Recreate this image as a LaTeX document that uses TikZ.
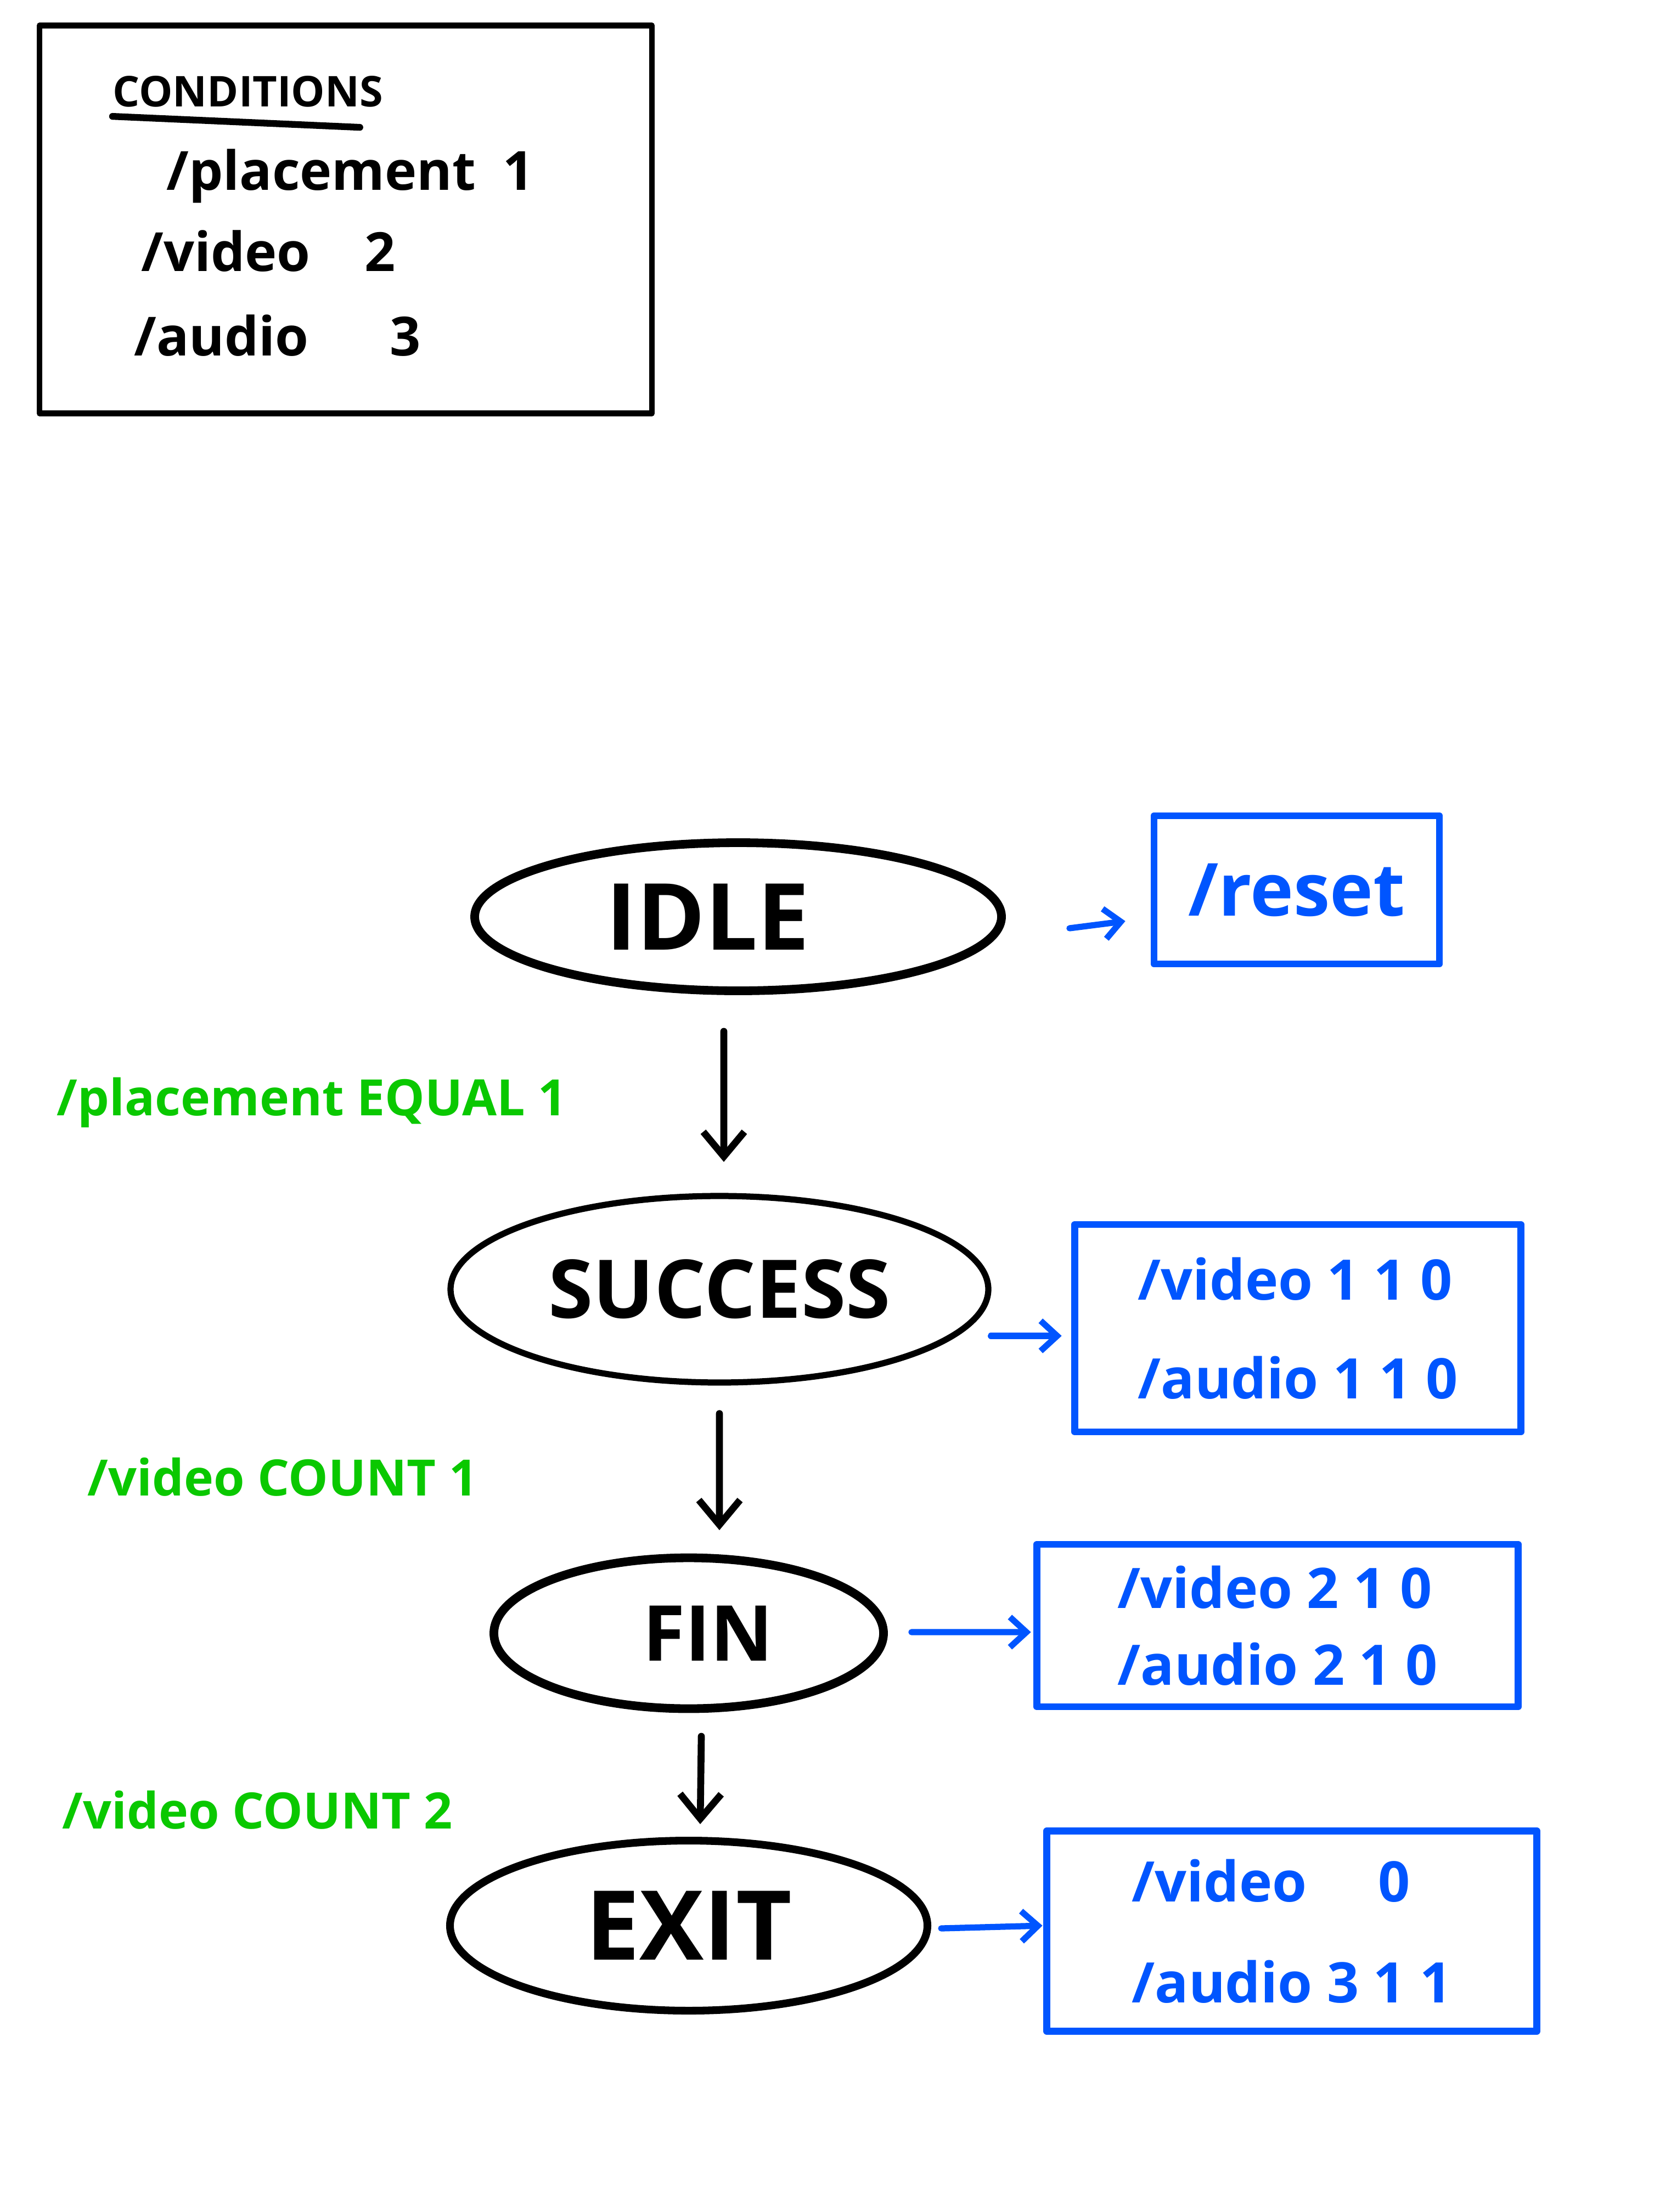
\documentclass[tikz,border=0pt]{standalone}
\usepackage{fontspec}
\setmainfont{Open Sans}
\usetikzlibrary{positioning,shapes.geometric,arrows.meta}
\definecolor{inkblue}{RGB}{0,85,255}
\definecolor{inkgreen}{RGB}{10,200,0}

\begin{document}
\begin{tikzpicture}[-{Straight Barb[length=4.5mm,width=7.5mm]}, on grid, line cap=round, line join=round,
state/.style ={ ellipse, draw, line width=4.5pt, inner sep=0pt,
minimum width=9.6cm, minimum height=2.7cm, font=\bfseries\fontsize{48}{60}\selectfont},
action/.style ={ rectangle, draw=inkblue, text=inkblue, line width=3.6pt,
align=left, inner sep=0pt, font=\bfseries\fontsize{29}{34}\selectfont},
guard/.style ={ anchor=west, inner sep=0pt, text=inkgreen, font=\bfseries\fontsize{26}{30}\selectfont},
cond/.style ={ anchor=west, inner sep=0pt, font=\bfseries\fontsize{28}{34}\selectfont},
flow/.style ={ line width=3.6pt},
act/.style ={ inkblue, line width=3.2pt, -{Straight Barb[length=3mm,width=5.5mm]}}]
\useasboundingbox (0,0) rectangle (30.24,-40.32);

% conditions box
\node[draw, line width=3pt, minimum width=11.16cm, minimum height=7.07cm] (CondBox) at (6.30,-4.00) {};
\node[cond, font=\bfseries\fontsize{22}{26}\selectfont] (CondTitle) at (2.05,-1.67) {CONDITIONS};
\draw[-, line width=3.5pt] ([yshift=-0.16cm]CondTitle.south west) -- ([xshift=-0.43cm, yshift=-0.36cm]CondTitle.south east);
\node[cond] (CondPlacement) at (3.03,-3.21) {/placement\enspace 1};
\node[cond] (CondVideo) at (2.57,-4.58) {/video\quad 2};
\node[cond] (CondAudio) at (2.44,-6.12) {/audio\quad\enspace 3};

% states
\node[state] (Idle) at (13.45,-16.71) {IDLE\hspace*{1.1cm}};
\node[state, line width=3.2pt, minimum width=9.8cm, minimum height=3.4cm, font=\bfseries\fontsize{42}{50}\selectfont] (Success) [below left=6.79cm and 0.34cm of Idle] {SUCCESS};
\node[state, minimum width=7.1cm, minimum height=2.75cm, font=\bfseries\fontsize{40}{50}\selectfont] (Fin) [below left=6.27cm and 0.56cm of Success] {\hspace*{0.7cm}FIN};
\node[state, line width=4pt, minimum width=8.7cm, minimum height=3.1cm, font=\bfseries\fontsize{50}{60}\selectfont] (Exit) [below=5.33cm of Fin] {EXIT};

% actions
\node[action, minimum width=5.2cm, minimum height=2.7cm, font=\bfseries\fontsize{38}{48}\selectfont] (ResetBox) [above right=0.49cm and 10.18cm of Idle] {/reset};
\node[action, minimum width=8.13cm, minimum height=3.78cm] (SuccessBox) [below right=0.71cm and 10.54cm of Success] {/video 1 1 0\\[0.6cm]/audio 1 1 0};
\node[action, minimum width=8.77cm, minimum height=2.96cm] (FinBox) [above right=0.14cm and 10.73cm of Fin] {/video 2 1 0\\[0.2cm]/audio 2 1 0};
\node[action, minimum width=8.93cm, minimum height=3.65cm] (ExitBox) [below right=0.10cm and 10.99cm of Exit] {/video\hspace{1.3cm}0\\[0.65cm]/audio 3 1 1};

% guards
\node[guard] (GuardPlacement) at (1.03,-20.10) {/placement EQUAL 1};
\node[guard] (GuardCountOne) at (1.59,-26.92) {/video COUNT 1};
\node[guard] (GuardCountTwo) at (1.13,-32.99) {/video COUNT 2};

\draw[flow] ([shift={(-0.26,-0.66)}]Idle.south) -- ([shift={(0.08,0.565)}]Success.north);
\draw[flow] ([shift={(0,-0.51)}]Success.south) -- ([shift={(0.56,0.425)}]Fin.north);
\draw[flow] ([shift={(0.23,-0.425)}]Fin.south) -- ([shift={(0.21,0.23)}]Exit.north);

\draw[act] ([shift={(1.16,-0.21)}]Idle.east) -- ([shift={(-0.46,-0.57)}]ResetBox.west);
\draw[act] ([shift={(-0.01,-0.85)}]Success.east) -- ([shift={(-0.175,-0.14)}]SuccessBox.west);
\draw[act] ([shift={(0.43,0.02)}]Fin.east) -- ([shift={(-0.045,-0.12)}]FinBox.west);
\draw[act] ([shift={(0.18,-0.05)}]Exit.east) -- ([shift={(-0.015,0.10)}]ExitBox.west);
\end{tikzpicture}
\end{document}
